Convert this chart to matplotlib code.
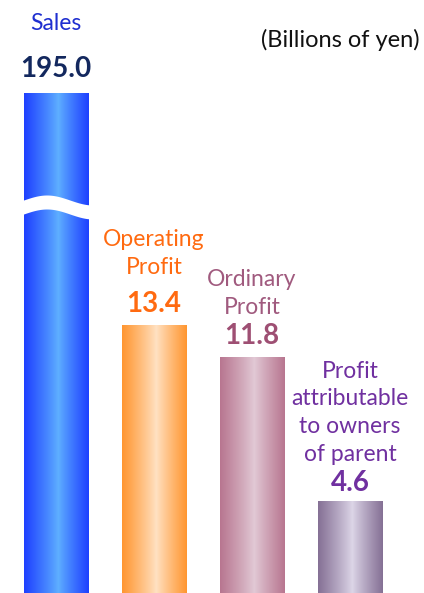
import numpy as np
import matplotlib
matplotlib.use('Agg')
import matplotlib.pyplot as plt
from matplotlib.colors import to_rgb

plt.rcParams['font.family'] = ['Lato', 'DejaVu Sans']

# data
names = ['Sales', 'Operating\nProfit', 'Ordinary\nProfit', 'Profit\nattributable\nto owners\nof parent']
values = [195.0, 13.4, 11.8, 4.6]
unit_label = '(Billions of yen)'

# sales bar is cut by a break, drawn only up to this height
sales_shown = 25.0
break_at = 19.65

name_colors = ['#1f2fd0', '#ff6a10', '#a05a7e', '#7030a0']
value_colors = ['#13285e', '#ff6a10', '#9e4f73', '#7030a0']
edge_colors = ['#1e40ff', '#ff9630', '#b87690', '#857095']
mid_colors = ['#5fb0ff', '#ffe2c4', '#e2cad6', '#ddd6e8']

# label offsets above bar tops (points)
value_off = [11.5, 9.4, 9.4, 7.5]
name_off = [45, 36.7, 31, 28.8]

fig = plt.figure(figsize=(4.24, 5.93), dpi=100)
ax = fig.add_axes([0, 0, 1, 1])

xpos = np.arange(len(values))
width = 0.66
shown = [sales_shown] + values[1:]

bars = ax.bar(xpos, shown, width=width, color='none', edgecolor='none')

# cylinder-like shading: dark at edges, light near the middle
t = np.linspace(0, 1, 200)
prof = np.abs(t - 0.53) / np.where(t < 0.53, 0.53, 0.47)
prof = prof ** 0.9
for i, b in enumerate(bars):
    e = np.array(to_rgb(edge_colors[i]))
    m = np.array(to_rgb(mid_colors[i]))
    grad = m[None, :] + (e - m)[None, :] * prof[:, None]
    x0 = b.get_x()
    im = ax.imshow(grad[None, :, :], extent=[x0, x0 + width, 0, b.get_height()],
                   aspect='auto', interpolation='bilinear', zorder=2)
    im.set_clip_path(b)

# wavy break in the sales bar
x0 = bars[0].get_x()
xs = np.linspace(x0 - 0.05, x0 + width + 0.05, 200)
ph = (xs - x0) / width
upper = break_at + 0.25 * np.sin(1.4 * np.pi * ph)
lower = upper - 0.7
ax.fill_between(xs, lower, upper, color='white', zorder=3, lw=0)

# labels above bars
for i, b in enumerate(bars):
    cx = b.get_x() + width / 2
    top = b.get_height()
    ax.annotate(f'{values[i]:.1f}', (cx, top), xytext=(0, value_off[i]), textcoords='offset points',
                ha='center', va='baseline', fontsize=20, fontweight='bold',
                color=value_colors[i], zorder=4)
    ax.annotate(names[i], (cx, top), xytext=(0, name_off[i]), textcoords='offset points',
                ha='center', va='baseline', fontsize=16.5, color=name_colors[i],
                linespacing=1.4, zorder=4)

ax.text(0.99, 0.932, unit_label, transform=ax.transAxes, ha='right', va='center',
        fontsize=17, color='#111111')

ax.set_xlim(-0.571, 3.755)
ax.set_ylim(0, 29.65)
ax.axis('off')

fig.savefig('out.png', dpi=100)
